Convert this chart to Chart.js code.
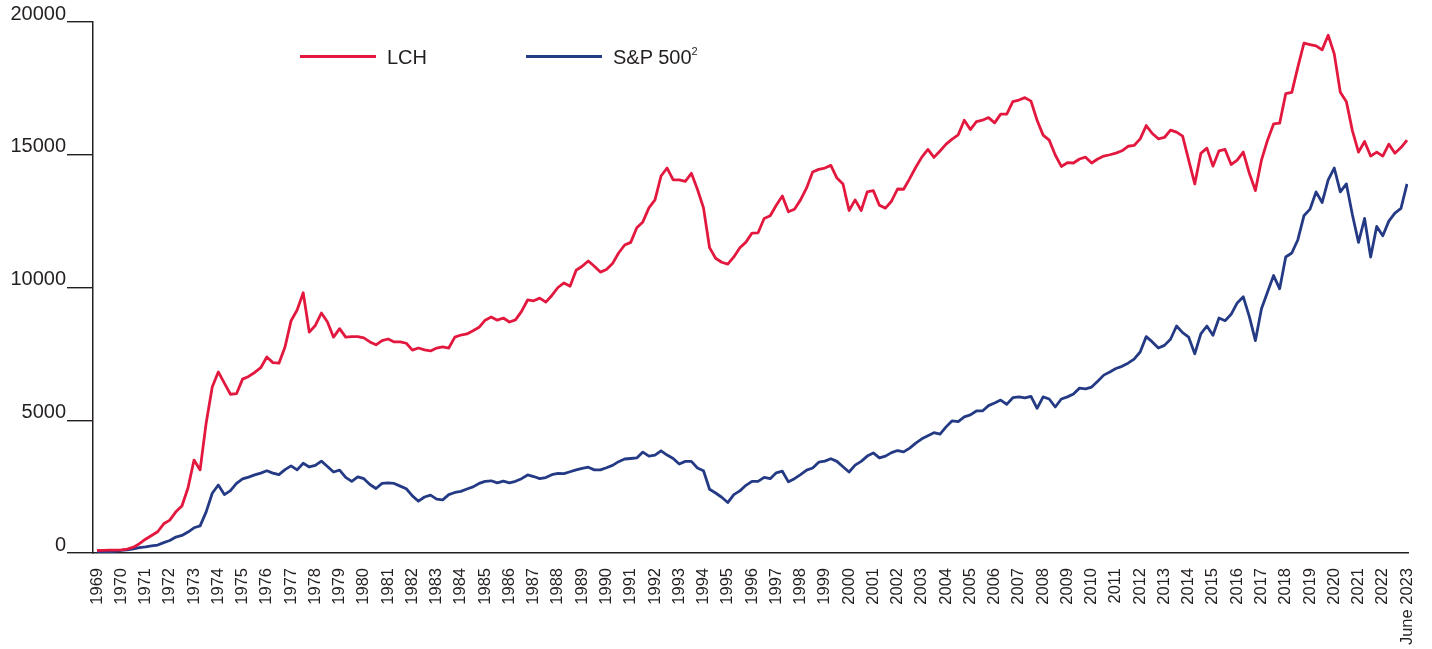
<!DOCTYPE html>
<html>
<head>
<meta charset="utf-8">
<script src="https://cdn.jsdelivr.net/npm/chart.js@4"></script>
<style>
html,body{margin:0;padding:0;background:#fff;}
#wrap{position:relative;width:1432px;height:649px;overflow:hidden;}
#c{position:absolute;left:0;top:0;width:1432px;height:649px;}
.leg{position:absolute;font-family:"Liberation Sans",Arial,Helvetica,sans-serif;font-size:20px;line-height:20px;color:#231f20;white-space:nowrap;}
.leg sup{font-size:11px;line-height:0;position:relative;top:-1px;}
.sw{position:absolute;height:3px;width:76px;}
</style>
</head>
<body>
<div id="wrap">
  <canvas id="c" width="1432" height="649"></canvas>
  <div class="sw" id="sw0" style="left:300px;top:55px;"></div>
  <div class="leg" style="left:387px;top:47px;">LCH</div>
  <div class="sw" id="sw1" style="left:526px;top:55px;"></div>
  <div class="leg" style="left:613px;top:47px;">S&amp;P 500<sup>2</sup></div>
</div>
<script>
// ---- Data (quarterly readings, 1969 to June 2023) ----
const yearLabels = ['1969','1970','1971','1972','1973','1974','1975','1976','1977','1978',
  '1979','1980','1981','1982','1983','1984','1985','1986','1987','1988','1989','1990',
  '1991','1992','1993','1994','1995','1996','1997','1998','1999','2000','2001','2002',
  '2003','2004','2005','2006','2007','2008','2009','2010','2011','2012','2013','2014',
  '2015','2016','2017','2018','2019','2020','2021','2022','June 2023'];

const seriesNames = ['LCH', 'S&P 500\u00B2'];

const lch = [
  100, 100, 110, 110,       // 1969
  120, 150, 220, 350,       // 1970
  520, 660, 800, 1100,      // 1971
  1240, 1550, 1770, 2450,   // 1972
  3500, 3130, 4900, 6250,   // 1973
  6820, 6400, 5980, 6000,   // 1974
  6550, 6650, 6800, 6980,   // 1975
  7380, 7170, 7150, 7760,   // 1976
  8750, 9150, 9800, 8320,   // 1977
  8570, 9040, 8700, 8130,   // 1978
  8450, 8130, 8150, 8150,   // 1979
  8100, 7950, 7840, 8000,   // 1980
  8060, 7950, 7950, 7900,   // 1981
  7640, 7720, 7650, 7610,   // 1982
  7720, 7760, 7720, 8130,   // 1983
  8210, 8250, 8370, 8500,   // 1984
  8770, 8890, 8770, 8850,   // 1985
  8700, 8780, 9100, 9530,   // 1986
  9500, 9600, 9450, 9700,   // 1987
  10000, 10170, 10050, 10650, // 1988
  10800, 11000, 10800, 10580, // 1989
  10680, 10900, 11300, 11600, // 1990
  11700, 12250, 12470, 13000, // 1991
  13300, 14200, 14500, 14050, // 1992
  14050, 14000, 14300, 13700, // 1993
  13000, 11500, 11100, 10950, // 1994
  10880, 11150, 11500, 11710, // 1995
  12050, 12060, 12600, 12700, // 1996
  13100, 13450, 12850, 12950, // 1997
  13300, 13750, 14350, 14450, // 1998
  14500, 14600, 14120, 13900, // 1999
  12900, 13300, 12900, 13600, // 2000
  13650, 13100, 12990, 13250, // 2001
  13710, 13700, 14100, 14530, // 2002
  14910, 15200, 14900, 15140, // 2003
  15400, 15590, 15750, 16300, // 2004
  15950, 16250, 16300, 16400, // 2005
  16200, 16530, 16530, 17000, // 2006
  17060, 17150, 17020, 16300, // 2007
  15740, 15550, 14990, 14560, // 2008
  14700, 14690, 14840, 14910, // 2009
  14690, 14840, 14950, 15000, // 2010
  15060, 15150, 15320, 15350, // 2011
  15600, 16100, 15800, 15600, // 2012
  15650, 15930, 15850, 15700, // 2013
  14800, 13900, 15050, 15250, // 2014
  14570, 15150, 15200, 14630, // 2015
  14800, 15100, 14300, 13650, // 2016
  14800, 15550, 16160, 16190, // 2017
  17300, 17350, 18300, 19200, // 2018
  19150, 19100, 18950, 19500, // 2019
  18800, 17350, 17000, 15900, // 2020
  15100, 15500, 14950, 15100, // 2021
  14950, 15400, 15060, 15270, // 2022
  15550                       // June 2023
];

const sp500 = [
  50, 50, 50, 60,           // 1969
  100, 120, 160, 200,       // 1970
  230, 270, 300, 390,       // 1971
  470, 600, 660, 790,       // 1972
  950, 1020, 1550, 2250,    // 1973
  2560, 2200, 2350, 2620,   // 1974
  2790, 2860, 2940, 3010,   // 1975
  3100, 3010, 2950, 3140,   // 1976
  3280, 3130, 3380, 3240,   // 1977
  3300, 3460, 3260, 3050,   // 1978
  3120, 2850, 2700, 2870,   // 1979
  2800, 2580, 2430, 2620,   // 1980
  2640, 2620, 2520, 2420,   // 1981
  2150, 1950, 2110, 2180,   // 1982
  2030, 2000, 2200, 2280,   // 1983
  2320, 2410, 2490, 2620,   // 1984
  2700, 2720, 2640, 2710,   // 1985
  2640, 2700, 2800, 2940,   // 1986
  2880, 2800, 2840, 2950,   // 1987
  3000, 2990, 3060, 3130,   // 1988
  3190, 3230, 3130, 3130,   // 1989
  3210, 3300, 3440, 3540,   // 1990
  3560, 3580, 3800, 3650,   // 1991
  3690, 3850, 3690, 3560,   // 1992
  3350, 3450, 3450, 3200,   // 1993
  3100, 2400, 2260, 2100,   // 1994
  1900, 2200, 2340, 2550,   // 1995
  2700, 2700, 2850, 2800,   // 1996
  3020, 3080, 2680, 2800,   // 1997
  2950, 3120, 3200, 3420,   // 1998
  3460, 3550, 3450, 3250,   // 1999
  3050, 3310, 3450, 3650,   // 2000
  3770, 3580, 3650, 3780,   // 2001
  3860, 3810, 3950, 4140,   // 2002
  4300, 4420, 4530, 4480,   // 2003
  4750, 4980, 4950, 5130,   // 2004
  5200, 5350, 5350, 5550,   // 2005
  5650, 5760, 5600, 5850,   // 2006
  5880, 5840, 5900, 5450,   // 2007
  5880, 5800, 5500, 5800,   // 2008
  5880, 5990, 6210, 6180,   // 2009
  6250, 6470, 6700, 6820,   // 2010
  6950, 7030, 7150, 7300,   // 2011
  7570, 8150, 7950, 7720,   // 2012
  7820, 8050, 8550, 8300,   // 2013
  8130, 7500, 8250, 8550,   // 2014
  8200, 8850, 8750, 8990,   // 2015
  9420, 9650, 8900, 8000,   // 2016
  9200, 9830, 10450, 9950,  // 2017
  11150, 11300, 11800, 12700, // 2018
  12950, 13600, 13200, 14050, // 2019
  14500, 13600, 13900, 12730, // 2020
  11700, 12600, 11150, 12300, // 2021
  11950, 12500, 12800, 12980, // 2022
  13900                       // June 2023
];

const yMin = 0, yMax = 20000, yStep = 5000;
const pointsPerYear = 4;

const RED = '#E3183F';
const BLUE = '#243A84';
const INK = '#231F20';
const FONT = '"Liberation Sans", Arial, Helvetica, sans-serif';

document.getElementById('sw0').style.background = RED;
document.getElementById('sw1').style.background = BLUE;

const toPoints = arr => arr.map((v, i) => ({x: i / pointsPerYear, y: v}));

new Chart(document.getElementById('c').getContext('2d'), {
  type: 'line',
  data: {
    datasets: [
      {label: seriesNames[0], data: toPoints(lch), borderColor: RED, backgroundColor: RED,
       borderWidth: 2.8, pointRadius: 0, tension: 0, fill: false, borderJoinStyle: 'round'},
      {label: seriesNames[1], data: toPoints(sp500), borderColor: BLUE, backgroundColor: BLUE,
       borderWidth: 2.8, pointRadius: 0, tension: 0, fill: false, borderJoinStyle: 'round'}
    ]
  },
  options: {
    responsive: false,
    animation: false,
    devicePixelRatio: 1,
    layout: {padding: {left: 0, top: 22, right: 24, bottom: 0}},
    plugins: {legend: {display: false}, tooltip: {enabled: false}},
    scales: {
      x: {
        type: 'linear',
        min: -0.165,
        max: yearLabels.length - 1 + 0.04,
        afterFit: s => { s.height = 96; s.paddingLeft = 0; s.paddingRight = 0; },
        grid: {display: false, drawTicks: false},
        border: {display: true, color: INK, width: 1.5},
        ticks: {
          stepSize: 1, autoSkip: false, includeBounds: false,
          minRotation: 90, maxRotation: 90, padding: 15,
          color: INK, font: {family: FONT, size: 16.5},
          callback: v => (Number.isInteger(v) && yearLabels[v] !== undefined) ? yearLabels[v] : ''
        }
      },
      y: {
        min: yMin, max: yMax,
        afterFit: s => { s.width = 93; s.paddingTop = 0; s.paddingBottom = 0; },
        grid: {drawOnChartArea: false, drawTicks: true, tickLength: 26, color: INK, lineWidth: 1.4},
        border: {display: true, color: INK, width: 1.5},
        ticks: {
          stepSize: yStep, padding: 1, labelOffset: -8,
          color: INK, font: {family: FONT, size: 20},
          callback: v => String(v)
        }
      }
    }
  }
});
</script>
</body>
</html>
